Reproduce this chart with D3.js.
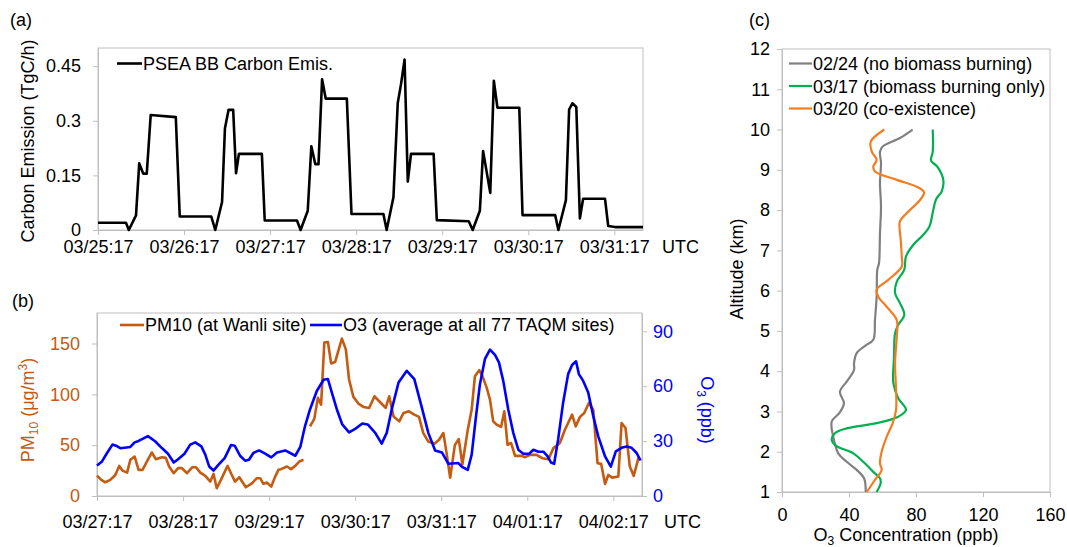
<!DOCTYPE html>
<html><head><meta charset="utf-8">
<script src="https://cdn.jsdelivr.net/npm/d3@7"></script>
<style>body{margin:0;background:#fff}svg{display:block}</style>
</head><body>
<script>
// ---------- data ----------
const dayTicks = [0, 24, 48, 72, 96, 120, 144]; // hours from first label
const tickLabelsA = ["03/25:17","03/26:17","03/27:17","03/28:17","03/29:17","03/30:17","03/31:17"];
const tickLabelsB = ["03/27:17","03/28:17","03/29:17","03/30:17","03/31:17","04/01:17","04/02:17"];
const emisTicks = [0, 0.15, 0.3, 0.45];
const pmTicks = [0, 50, 100, 150];
const o3Ticks = [0, 30, 60, 90];
const altTicks = [1,2,3,4,5,6,7,8,9,10,11,12];
const concTicks = [0, 40, 80, 120, 160];

// (a) PSEA BB carbon emission [hour, TgC/h]
const emission = [[0,0.02],[7.8,0.02],[8.6,0],[10.6,0.04],[11.5,0.183],[12.6,0.155],[13.6,0.155],[14.7,0.316],
 [21.7,0.31],[22.8,0.037],[31.6,0.037],[32.7,0],[34.6,0.077],[35.4,0.279],[36.4,0.33],[37.7,0.33],[38.5,0.156],
 [39.3,0.209],[45.7,0.209],[46.5,0.026],[55.5,0.026],[56.5,0],[58.5,0.053],[59.5,0.23],[60.6,0.181],[61.5,0.181],
 [62.5,0.414],[63.5,0.361],[69.4,0.361],[70.7,0.044],[79.6,0.044],[80.5,0],[82.4,0.09],[83.6,0.349],[84.5,0.4],
 [85.5,0.468],[86.4,0.133],[87.3,0.209],[93.6,0.209],[94.5,0.027],[103.4,0.024],[104.5,0],[106.5,0.053],
 [107.4,0.217],[109.4,0.102],[110.4,0.41],[111.4,0.336],[117.5,0.336],[118.4,0.041],[127.5,0.041],[128.4,0],
 [130.5,0.082],[131.4,0.331],[132.3,0.348],[133.4,0.338],[134.4,0.032],[135.3,0.086],[141.4,0.086],[142.3,0.011],
 [144.2,0.008],[152,0.008]];

// (b) PM10 at Wanli [hour, ug/m3]; null = gap
const pm10 = [[0,20],[1.2,15.8],[2.3,13.5],[3.7,15.8],[5.1,20.7],[6.2,29.6],[7.1,25],[8.4,23],[9.3,35.6],[10.5,38.8],
 [11.6,25.7],[12.7,25.7],[13.9,33.9],[15.3,42.8],[16.4,36.2],[18.1,38.2],[19.2,37.5],[20.1,29],[21.4,22.4],[22.6,27.4],
 [23.7,27.4],[25.1,22.4],[26.6,28.3],[27.6,28.3],[28.8,23],[30.2,19.8],[31.6,14.2],[32.5,21.7],[33.4,7.6],[35,19.1],
 [36.4,29.6],[37.6,20.7],[38.5,14.2],[39.7,18.5],[41.5,8.6],[43.2,12.5],[44.6,17.5],[45.5,17.5],[46.4,11.9],[47.4,13.2],
 [48.6,9.2],[49.7,19.1],[50.6,25.7],[51.3,26.4],[53,29],[54.1,26.4],[55.3,29.6],[56.4,33.9],[57.6,35.6],[58.5,null],
 [59.4,68.5],[60.6,75.8],[61.6,96.5],[62.5,89.9],[63.4,150.9],[64.4,151.5],[65.3,130.4],[66.4,131.7],[68.3,154.8],
 [69.4,144.2],[70.3,114.6],[71.5,97.5],[72.9,90.9],[74.3,87.6],[75.9,86.6],[77.4,98.1],[78.7,93.2],[80.5,86.6],
 [81.5,98.1],[82.7,78.3],[84.3,73.4],[85.5,81.7],[87,83.3],[88.5,80],[89.8,77.8],[91,61.9],[92.4,53.6],[94.1,51.4],
 [95.4,55.3],[96.6,61.9],[97.5,42.2],[98.5,18],[99.8,50],[100.9,56],[101.9,31],[103.4,65],[104.5,85],[105.4,117.9],
 [106.6,123.8],[107.5,117.9],[108.7,106.4],[109.6,94.8],[110.5,73.4],[111.5,70.1],[112.7,67.9],[113.6,83.3],[114.5,50.4],
 [115.5,52.1],[116.6,39.5],[118.4,39.5],[119.4,38.2],[120.8,40.5],[122.6,40.5],[124.2,37.2],[125.9,36.2],[127.3,47.1],
 [129.1,52.1],[130.5,65.2],[132.5,80],[133.5,68.5],[134.7,77.8],[135.9,81.7],[137.2,91.6],[138.4,85],[139.6,32.3],
 [140.6,31.6],[141.7,11.9],[142.6,20.7],[143.7,18.1],[145.4,19.1],[146.3,71.8],[147.4,66.9],[148.6,29],[149.7,19.8],
 [151.1,38.8]];

// (b) O3 average at 77 TAQM sites [hour, ppb]
const o3 = [[0,16.7],[1.4,18.9],[2.8,23.5],[4.3,28.1],[5.3,27.5],[6.5,26.1],[9.3,26.8],[10.5,29.3],[11.6,30.1],[14.2,32.7],
 [16.2,29.9],[18.1,26.2],[19.8,23.1],[21.4,18.3],[22.7,20.2],[24.4,23.1],[26,28.1],[27.4,29.3],[29.1,27.1],[30.2,22.6],
 [31.3,16.1],[32.5,13.9],[33.9,17.1],[35.6,20.7],[37.4,27.9],[38.4,27.5],[39.9,22],[41.3,19.3],[42.4,19.8],[43.6,23.5],
 [45.2,24.9],[46.9,23.1],[48.6,21.1],[50.2,23.8],[52.5,24.9],[55.3,22],[56.7,26.8],[58,38.1],[59.4,47.3],[61.3,57.4],
 [63.2,63.5],[64.4,63.9],[65.5,56.5],[66.9,47.3],[68.4,39.1],[70.3,34.8],[72,36.7],[74,39.6],[75.5,39.1],[77.6,34.5],
 [79.4,28.6],[80.8,34.5],[82.2,47.3],[84.1,62],[86.4,68.4],[88.5,63.9],[90.6,48.3],[92.4,34.5],[94.3,24.9],[96.2,23.8],
 [98,17.6],[100.8,18],[101.7,16.1],[103.4,14.3],[104.5,22.6],[105.6,41.8],[106.8,61.1],[108.2,74.9],[109.6,80],[111,77.1],
 [112.1,73],[113.3,62.9],[114.7,47.3],[116.1,34.5],[117.5,25.3],[118.9,23.1],[120.5,23],[121.7,25.3],[123.1,24.2],
 [124.5,24.2],[125.7,21.6],[126.6,18.3],[127.5,17.6],[128.6,30.8],[130,51],[131.4,66.6],[132.5,71.6],[133.6,73.6],
 [134.4,66.6],[135.6,62.9],[137,56.5],[138.4,43.7],[139.8,32.6],[141.7,21.6],[143.3,16.1],[144.7,24.4],[146.3,26.3],
 [147.7,27.1],[149.1,26.3],[150.5,23.5],[151.6,19.4]];

// (c) ozonesonde profiles [ppb, km]
const prof0224 = [[50,1],[49,1.34],[44.6,1.55],[38.6,1.75],[33.6,1.96],[30.6,2.37],[29.7,2.75],[34.2,2.96],[37,3.2],
 [34.6,3.49],[38.6,3.74],[43,4.03],[43,4.2],[44.6,4.45],[49.6,4.63],[54.5,4.78],[55.5,5.27],[56.5,5.85],[56.9,6.52],
 [57.9,6.68],[58.5,7.43],[59.1,8.09],[58.5,8.67],[59.1,9.17],[58.5,9.45],[60.1,9.58],[70.4,9.79],[78,10]];
const prof0317 = [[56.5,1],[58.9,1.22],[58.5,1.34],[54.5,1.5],[48.5,1.75],[42.6,1.96],[32.6,2.14],[29.7,2.29],[31.6,2.46],
 [38.6,2.58],[56.5,2.71],[69.4,2.87],[74,3.04],[69.4,3.33],[66.5,3.7],[66.9,4.36],[67.5,4.94],[69.4,5.15],[73,5.4],
 [70.4,5.69],[67.5,5.94],[68.5,6.22],[73,6.52],[74,6.85],[78.4,7.14],[84.4,7.39],[88,7.59],[90.3,8],[92,8.27],[95.3,8.46],
 [96.3,8.75],[92.7,9.08],[89,9.23],[90,9.45],[90,10]];
const prof0320 = [[50.6,1],[55.5,1.3],[59.5,1.55],[58.5,1.71],[59.5,2],[62.5,2.37],[66.1,2.71],[68.1,3.04],[68.1,3.53],
 [67.5,4.2],[68.5,4.86],[68.5,5.27],[62.5,5.6],[57.5,5.85],[56.5,6.02],[63.5,6.27],[71.5,6.6],[71.5,6.85],[70.9,7.26],
 [70.4,7.72],[74.4,7.92],[82.4,8.25],[84.8,8.44],[80.4,8.58],[68.5,8.75],[55.5,8.96],[54.5,9.08],[56.5,9.25],[53.6,9.45],
 [53,9.7],[61.1,10]];

// ---------- drawing ----------
const FONT = "'Liberation Sans', Arial, sans-serif";
const FS = 18;
const GRID = "#bfbfbf";
const C_PM = "#C55A11", C_O3 = "#0000FF";
const C_GRAY = "#808080", C_GREEN = "#00B050", C_ORANGE = "#F47C20";

const svg = d3.select("body").append("svg")
  .attr("width", 1067).attr("height", 547)
  .attr("font-family", FONT).attr("font-size", FS);

function styleAxis(g, color, textColor) {
  g.attr("font-size", FS).attr("font-family", FONT);
  g.select(".domain").attr("stroke", color);
  g.selectAll(".tick line").attr("stroke", color);
  g.selectAll(".tick text").attr("fill", textColor || "#000");
}
function frame(x0, y0, x1, y1) {
  svg.append("rect").attr("x", x0).attr("y", y0).attr("width", x1 - x0).attr("height", y1 - y0)
    .attr("fill", "none").attr("stroke", GRID).attr("stroke-width", 1);
}
function bottomAxis(scale, y, vals, fmt, base) {
  const g = svg.append("g").attr("transform", `translate(0,${y})`)
    .call(d3.axisBottom(scale).tickValues(vals).tickFormat(fmt).tickSize(5).tickSizeOuter(0));
  styleAxis(g, GRID);
  g.selectAll(".tick text").attr("dy", null).attr("y", base - y);
  return g;
}
function leftAxis(scale, x, vals, fmt, color, pad) {
  const g = svg.append("g").attr("transform", `translate(${x},0)`)
    .call(d3.axisLeft(scale).tickValues(vals).tickFormat(fmt).tickSize(5).tickPadding(pad).tickSizeOuter(0));
  styleAxis(g, GRID, color);
  return g;
}

// ===== Panel (a) =====
const xA = d3.scaleLinear().domain([0, 152]).range([98, 643]);
const yA = d3.scaleLinear().domain([0, 0.5]).range([230, 48]);
frame(98, 48, 643, 230);
bottomAxis(xA, 230, dayTicks, (d, i) => tickLabelsA[i], 253);
leftAxis(yA, 98, emisTicks, d => d === 0 ? "0" : String(d), "#000", 12);
svg.append("path").datum(emission)
  .attr("fill", "none").attr("stroke", "#000").attr("stroke-width", 2.6).attr("stroke-linejoin", "round")
  .attr("d", d3.line().x(d => xA(d[0])).y(d => yA(d[1])));
svg.append("line").attr("x1", 117).attr("x2", 142).attr("y1", 63.5).attr("y2", 63.5)
  .attr("stroke", "#000").attr("stroke-width", 2.6);
svg.append("text").attr("x", 143).attr("y", 70).text("PSEA BB Carbon Emis.");
svg.append("text").attr("x", 662).attr("y", 253).text("UTC");
svg.append("text").attr("x", 10).attr("y", 26).text("(a)");
svg.append("text").attr("transform", "translate(34,141) rotate(-90)")
  .attr("text-anchor", "middle").text("Carbon Emission (TgC/h)");

// ===== Panel (b) =====
const xB = d3.scaleLinear().domain([0, 152]).range([97, 642]);
const yB = d3.scaleLinear().domain([0, 180]).range([496, 313]);
const yR = d3.scaleLinear().domain([0, 100]).range([496, 313]);
frame(97, 313, 642, 496);
bottomAxis(xB, 496, dayTicks, (d, i) => tickLabelsB[i], 528);
leftAxis(yB, 97, pmTicks, d => String(d), C_PM, 12);
const gR = svg.append("g").attr("transform", "translate(642,0)")
  .call(d3.axisRight(yR).tickValues(o3Ticks).tickSize(5).tickPadding(6).tickSizeOuter(0));
styleAxis(gR, GRID, C_O3);

svg.append("path").datum(pm10)
  .attr("fill", "none").attr("stroke", C_PM).attr("stroke-width", 2.6).attr("stroke-linejoin", "round")
  .attr("d", d3.line().defined(d => d[1] !== null).x(d => xB(d[0])).y(d => yB(d[1])));
svg.append("path").datum(o3)
  .attr("fill", "none").attr("stroke", C_O3).attr("stroke-width", 2.6).attr("stroke-linejoin", "round")
  .attr("d", d3.line().x(d => xB(d[0])).y(d => yR(d[1])));

svg.append("line").attr("x1", 120).attr("x2", 144).attr("y1", 325).attr("y2", 325)
  .attr("stroke", C_PM).attr("stroke-width", 2.6);
svg.append("text").attr("x", 145).attr("y", 331).text("PM10 (at Wanli site)");
svg.append("line").attr("x1", 310).attr("x2", 342).attr("y1", 325).attr("y2", 325)
  .attr("stroke", C_O3).attr("stroke-width", 2.6);
svg.append("text").attr("x", 343).attr("y", 331).text("O3 (average at all 77 TAQM sites)");
svg.append("text").attr("x", 664).attr("y", 528).text("UTC");
svg.append("text").attr("x", 12).attr("y", 307).text("(b)");

const pmT = svg.append("text").attr("transform", "translate(34,410) rotate(-90)")
  .attr("text-anchor", "middle").attr("fill", C_PM);
pmT.append("tspan").text("PM");
pmT.append("tspan").attr("font-size", 12).attr("dy", 4).text("10");
pmT.append("tspan").attr("dy", -4).text(" (μg/m");
pmT.append("tspan").attr("font-size", 12).attr("dy", -7).text("3");
pmT.append("tspan").attr("dy", 7).text(")");

const o3T = svg.append("text").attr("transform", "translate(701,410) rotate(90)")
  .attr("text-anchor", "middle").attr("fill", C_O3);
o3T.append("tspan").text("O");
o3T.append("tspan").attr("font-size", 12).attr("dy", 4).text("3");
o3T.append("tspan").attr("dy", -4).text(" (ppb)");

// ===== Panel (c) =====
const xC = d3.scaleLinear().domain([0, 160]).range([782, 1050]);
const yC = d3.scaleLinear().domain([1, 12]).range([492, 49]);
frame(782, 49, 1050, 492);
bottomAxis(xC, 492, concTicks, d => String(d), 521);
leftAxis(yC, 782, altTicks, d => String(d), "#000", 7);

const profLine = d3.line().curve(d3.curveCatmullRom.alpha(0.5)).x(d => xC(d[0])).y(d => yC(d[1]));
[[prof0224, C_GRAY], [prof0317, C_GREEN], [prof0320, C_ORANGE]].forEach(([data, col]) => {
  svg.append("path").datum(data).attr("fill", "none").attr("stroke", col)
    .attr("stroke-width", 2.2).attr("stroke-linejoin", "round").attr("d", profLine);
});

const legC = [["02/24 (no biomass burning)", C_GRAY, 63.5], ["03/17 (biomass burning only)", C_GREEN, 86], ["03/20 (co-existence)", C_ORANGE, 108.5]];
legC.forEach(([label, col, y]) => {
  svg.append("line").attr("x1", 789).attr("x2", 812).attr("y1", y).attr("y2", y)
    .attr("stroke", col).attr("stroke-width", 2.2);
  svg.append("text").attr("x", 813).attr("y", y + 6.5).text(label);
});
svg.append("text").attr("x", 749).attr("y", 26).text("(c)");
svg.append("text").attr("transform", "translate(743,269) rotate(-90)")
  .attr("text-anchor", "middle").text("Altitude (km)");
const xT = svg.append("text").attr("x", 906).attr("y", 541).attr("text-anchor", "middle");
xT.append("tspan").text("O");
xT.append("tspan").attr("font-size", 12).attr("dy", 4).text("3");
xT.append("tspan").attr("dy", -4).text(" Concentration (ppb)");
</script>
</body></html>
